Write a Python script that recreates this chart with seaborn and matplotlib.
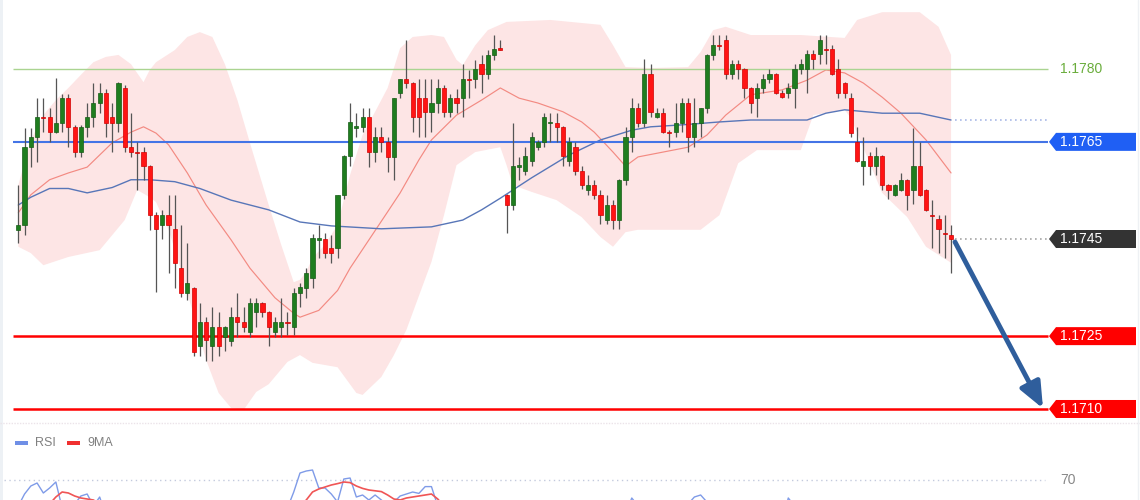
import numpy as np
import pandas as pd
import matplotlib
matplotlib.use("Agg")
import matplotlib.pyplot as plt
import seaborn as sns
from matplotlib.patches import Polygon, Rectangle
from matplotlib.lines import Line2D

sns.set_theme(style="white")
plt.rcParams["font.family"] = ["Liberation Sans", "DejaVu Sans"]

# ---------------- data (EURUSD-like candles) ----------------
open_ = [1.17469, 1.17479, 1.17639, 1.17660, 1.17701, 1.17701, 1.17670, 1.17689, 1.17740, 1.17681,
         1.17629, 1.17681, 1.17701, 1.17730, 1.17751, 1.17701, 1.17689, 1.17761, 1.17639, 1.17629,
         1.17629, 1.17600, 1.17499, 1.17479, 1.17499, 1.17471, 1.17390, 1.17339, 1.17349, 1.17230,
         1.17279, 1.17230, 1.17269, 1.17248, 1.17240, 1.17289, 1.17279, 1.17259, 1.17300, 1.17318,
         1.17300, 1.17259, 1.17269, 1.17279, 1.17269, 1.17339, 1.17349, 1.17370, 1.17448, 1.17450,
         1.17432, 1.17432, 1.17541, 1.17621, 1.17679, 1.17681, 1.17701, 1.17629, 1.17660, 1.17650,
         1.17619, 1.17751, 1.17779, 1.17771, 1.17740, 1.17740, 1.17712, 1.17730, 1.17761, 1.17712,
         1.17740, 1.17740, 1.17779, 1.17779, 1.17810, 1.17790, 1.17829, 1.17841, 1.17541, 1.17520,
         1.17598, 1.17590, 1.17611, 1.17639, 1.17650, 1.17689, 1.17689, 1.17681, 1.17611, 1.17639,
         1.17590, 1.17551, 1.17561, 1.17541, 1.17489, 1.17520, 1.17489, 1.17572, 1.17660, 1.17720,
         1.17689, 1.17790, 1.17701, 1.17709, 1.17670, 1.17670, 1.17689, 1.17730, 1.17660, 1.17689,
         1.17720, 1.17829, 1.17849, 1.17860, 1.17790, 1.17810, 1.17800, 1.17761, 1.17740, 1.17761,
         1.17779, 1.17790, 1.17751, 1.17751, 1.17761, 1.17800, 1.17800, 1.17831, 1.17831, 1.17841,
         1.17841, 1.17800, 1.17771, 1.17740, 1.17650, 1.17600, 1.17621, 1.17600, 1.17621, 1.17561,
         1.17541, 1.17551, 1.17572, 1.17551, 1.17600, 1.17551, 1.17499, 1.17491, 1.17462, 1.17458]
high = [1.17561, 1.17679, 1.17679, 1.17740, 1.17740, 1.17720, 1.17782, 1.17749, 1.17749, 1.17685,
        1.17685, 1.17730, 1.17771, 1.17771, 1.17759, 1.17730, 1.17773, 1.17767, 1.17709, 1.17650,
        1.17639, 1.17602, 1.17506, 1.17510, 1.17541, 1.17541, 1.17479, 1.17442, 1.17351, 1.17318,
        1.17289, 1.17310, 1.17300, 1.17271, 1.17310, 1.17339, 1.17310, 1.17329, 1.17329, 1.17320,
        1.17302, 1.17289, 1.17329, 1.17300, 1.17349, 1.17359, 1.17390, 1.17460, 1.17479, 1.17462,
        1.17458, 1.17541, 1.17623, 1.17730, 1.17709, 1.17720, 1.17720, 1.17681, 1.17681, 1.17660,
        1.17740, 1.17779, 1.17860, 1.17773, 1.17779, 1.17779, 1.17779, 1.17779, 1.17767, 1.17749,
        1.17759, 1.17810, 1.17798, 1.17819, 1.17829, 1.17839, 1.17870, 1.17860, 1.17543, 1.17689,
        1.17619, 1.17639, 1.17670, 1.17654, 1.17709, 1.17709, 1.17709, 1.17683, 1.17660, 1.17650,
        1.17600, 1.17582, 1.17572, 1.17551, 1.17541, 1.17530, 1.17574, 1.17681, 1.17740, 1.17730,
        1.17821, 1.17810, 1.17720, 1.17720, 1.17674, 1.17730, 1.17740, 1.17740, 1.17740, 1.17720,
        1.17831, 1.17870, 1.17870, 1.17870, 1.17819, 1.17819, 1.17802, 1.17763, 1.17771, 1.17790,
        1.17800, 1.17792, 1.17757, 1.17771, 1.17810, 1.17821, 1.17839, 1.17839, 1.17870, 1.17870,
        1.17849, 1.17821, 1.17773, 1.17751, 1.17681, 1.17660, 1.17629, 1.17639, 1.17623, 1.17563,
        1.17563, 1.17586, 1.17574, 1.17679, 1.17650, 1.17553, 1.17530, 1.17499, 1.17499, 1.17479]
low = [1.17442, 1.17458, 1.17598, 1.17609, 1.17670, 1.17650, 1.17668, 1.17670, 1.17639, 1.17619,
       1.17619, 1.17660, 1.17681, 1.17709, 1.17660, 1.17629, 1.17670, 1.17629, 1.17619, 1.17551,
       1.17572, 1.17469, 1.17341, 1.17450, 1.17380, 1.17349, 1.17331, 1.17324, 1.17209, 1.17209,
       1.17199, 1.17199, 1.17209, 1.17219, 1.17230, 1.17248, 1.17259, 1.17248, 1.17269, 1.17289,
       1.17230, 1.17248, 1.17248, 1.17252, 1.17252, 1.17310, 1.17329, 1.17349, 1.17411, 1.17411,
       1.17401, 1.17411, 1.17532, 1.17600, 1.17660, 1.17670, 1.17598, 1.17609, 1.17629, 1.17588,
       1.17572, 1.17740, 1.17761, 1.17670, 1.17660, 1.17660, 1.17670, 1.17709, 1.17701, 1.17701,
       1.17709, 1.17701, 1.17740, 1.17761, 1.17751, 1.17779, 1.17819, 1.17839, 1.17462, 1.17510,
       1.17572, 1.17582, 1.17600, 1.17633, 1.17639, 1.17650, 1.17650, 1.17600, 1.17600, 1.17582,
       1.17553, 1.17541, 1.17532, 1.17481, 1.17481, 1.17471, 1.17471, 1.17561, 1.17629, 1.17681,
       1.17681, 1.17701, 1.17699, 1.17668, 1.17639, 1.17660, 1.17670, 1.17629, 1.17639, 1.17660,
       1.17709, 1.17819, 1.17839, 1.17779, 1.17779, 1.17779, 1.17740, 1.17709, 1.17701, 1.17751,
       1.17771, 1.17749, 1.17740, 1.17740, 1.17720, 1.17790, 1.17751, 1.17800, 1.17810, 1.17810,
       1.17788, 1.17740, 1.17740, 1.17660, 1.17609, 1.17561, 1.17582, 1.17582, 1.17551, 1.17532,
       1.17539, 1.17549, 1.17510, 1.17522, 1.17539, 1.17508, 1.17432, 1.17421, 1.17411, 1.17380]
close = [1.17479, 1.17639, 1.17660, 1.17701, 1.17699, 1.17670, 1.17689, 1.17740, 1.17681, 1.17629,
         1.17681, 1.17701, 1.17730, 1.17751, 1.17689, 1.17689, 1.17771, 1.17639, 1.17629, 1.17627,
         1.17600, 1.17499, 1.17471, 1.17499, 1.17479, 1.17401, 1.17339, 1.17359, 1.17217, 1.17279,
         1.17242, 1.17269, 1.17230, 1.17269, 1.17289, 1.17279, 1.17269, 1.17318, 1.17318, 1.17300,
         1.17269, 1.17279, 1.17279, 1.17277, 1.17339, 1.17351, 1.17380, 1.17452, 1.17452, 1.17421,
         1.17421, 1.17541, 1.17621, 1.17691, 1.17683, 1.17701, 1.17629, 1.17660, 1.17650, 1.17619,
         1.17740, 1.17779, 1.17771, 1.17701, 1.17701, 1.17712, 1.17730, 1.17761, 1.17712, 1.17740,
         1.17730, 1.17779, 1.17777, 1.17800, 1.17790, 1.17829, 1.17841, 1.17840, 1.17520, 1.17600,
         1.17602, 1.17621, 1.17660, 1.17650, 1.17701, 1.17691, 1.17681, 1.17621, 1.17650, 1.17590,
         1.17561, 1.17561, 1.17541, 1.17499, 1.17520, 1.17489, 1.17572, 1.17660, 1.17720, 1.17689,
         1.17790, 1.17712, 1.17709, 1.17670, 1.17668, 1.17689, 1.17730, 1.17660, 1.17689, 1.17720,
         1.17829, 1.17849, 1.17847, 1.17790, 1.17810, 1.17800, 1.17761, 1.17730, 1.17761, 1.17779,
         1.17790, 1.17751, 1.17742, 1.17761, 1.17800, 1.17810, 1.17831, 1.17821, 1.17860, 1.17839,
         1.17790, 1.17751, 1.17751, 1.17668, 1.17611, 1.17611, 1.17600, 1.17621, 1.17561, 1.17551,
         1.17561, 1.17572, 1.17541, 1.17600, 1.17541, 1.17510, 1.17497, 1.17471, 1.17460, 1.17450]

# Bollinger band edges (candle index, price)
bb_up_idx = [0, 2, 4, 6, 8, 10, 12, 14, 16, 18, 20, 21, 22, 25, 27, 29, 31, 33, 35, 37,
             40, 42, 44, 45, 46, 47, 49, 51, 53, 55, 57, 59, 61, 63, 66, 68, 70, 71, 73, 75,
             78, 85, 93, 95, 97, 101, 107, 109, 111, 113, 117, 125, 132, 134, 138, 144, 147, 149]
bb_up = [1.17561, 1.17654, 1.17705, 1.17736, 1.17761, 1.17788, 1.17814, 1.17825, 1.17829, 1.17810,
         1.17773, 1.17798, 1.17814, 1.17839, 1.17866, 1.17876, 1.17866, 1.17810, 1.17736, 1.17648,
         1.17520, 1.17438, 1.17361, 1.17366, 1.17382, 1.17411, 1.17438, 1.17479, 1.17582, 1.17664,
         1.17712, 1.17761, 1.17843, 1.17866, 1.17870, 1.17866, 1.17819, 1.17808, 1.17849, 1.17880,
         1.17897, 1.17901, 1.17891, 1.17849, 1.17804, 1.17802, 1.17804, 1.17835, 1.17880, 1.17887,
         1.17870, 1.17870, 1.17864, 1.17901, 1.17917, 1.17917, 1.17887, 1.17829]
bb_lo_idx = [0, 2, 4, 8, 13, 17, 19, 21, 22, 24, 26, 28, 30, 32, 34, 36, 38, 40, 43, 45,
             47, 51, 54, 55, 58, 60, 62, 66, 68, 70, 73, 77, 78, 79, 82, 86, 90, 93, 95, 97,
             99, 109, 112, 115, 118, 125, 127, 132, 133, 138, 142, 145, 149]
bb_lo = [1.17434, 1.17421, 1.17396, 1.17413, 1.17427, 1.17489, 1.17551, 1.17536, 1.17526, 1.17469,
         1.17386, 1.17294, 1.17201, 1.17133, 1.17102, 1.17098, 1.17135, 1.17151, 1.17197, 1.17211,
         1.17195, 1.17186, 1.17133, 1.17129, 1.17166, 1.17211, 1.17263, 1.17403, 1.17499, 1.17602,
         1.17629, 1.17639, 1.17602, 1.17561, 1.17547, 1.17530, 1.17495, 1.17454, 1.17434, 1.17464,
         1.17469, 1.17469, 1.17499, 1.17606, 1.17633, 1.17633, 1.17705, 1.17716, 1.17699, 1.17545,
         1.17495, 1.17434, 1.17401]
# middle band (20 MA) and slow MA
ma20_idx = [0, 2, 5, 8, 11, 13, 15, 18, 20, 22, 24, 27, 30, 34, 37, 41, 44, 45, 48, 51,
            53, 56, 59, 61, 64, 66, 70, 74, 77, 80, 83, 87, 90, 92, 95, 97, 99, 103, 107, 110,
            113, 117, 122, 126, 129, 132, 135, 138, 141, 145, 149]
ma20 = [1.17504, 1.17541, 1.17572, 1.17586, 1.17598, 1.17623, 1.17648, 1.17670, 1.17681, 1.17668,
        1.17644, 1.17586, 1.17520, 1.17448, 1.17390, 1.17329, 1.17297, 1.17289, 1.17303, 1.17344,
        1.17390, 1.17448, 1.17506, 1.17545, 1.17613, 1.17654, 1.17705, 1.17736, 1.17761, 1.17740,
        1.17730, 1.17712, 1.17691, 1.17670, 1.17629, 1.17600, 1.17619, 1.17629, 1.17639, 1.17664,
        1.17705, 1.17747, 1.17757, 1.17777, 1.17798, 1.17792, 1.17771, 1.17742, 1.17709, 1.17654,
        1.17586]
ma_slow_idx = [0, 2, 5, 8, 11, 15, 18, 21, 25, 29, 34, 40, 45, 50, 58, 66, 71, 74, 77, 82,
               88, 93, 98, 101, 106, 112, 117, 126, 129, 132, 138, 144, 149]
ma_slow = [1.17520, 1.17536, 1.17554, 1.17554, 1.17545, 1.17556, 1.17572, 1.17572, 1.17568, 1.17554,
           1.17530, 1.17510, 1.17485, 1.17477, 1.17471, 1.17475, 1.17489, 1.17510, 1.17534, 1.17576,
           1.17623, 1.17654, 1.17674, 1.17681, 1.17685, 1.17691, 1.17695, 1.17695, 1.17709, 1.17716,
           1.17709, 1.17709, 1.17695]

# RSI panel (only the part above ~60 is visible)
rsi = [57, 63, 67, 68.5, 63.5, 66, 69, 56, 52, 58, 62, 63, 57, 61.5, 52,
       50, 56, 46, 43, 41, 38, 31, 28, 30, 29, 25, 22, 24, 20, 27, 25, 29, 27, 29, 36, 34, 33, 42, 43, 40, 36, 39, 40,
       56, 64, 73.5, 74.5, 75, 66, 66, 63, 59, 70.5, 71, 61.5, 62.5, 60, 62.5, 60, 57, 59, 62, 63, 64, 63.3, 66.7, 66.7, 57,
       55, 58, 56, 58.5, 58, 59.5, 57, 59, 59.5, 59,
       45, 52, 52, 54, 56, 56, 59, 58, 57, 50,
       52, 47, 43, 43, 41, 38, 40, 38, 45, 53,
       61, 57, 59, 52, 53, 49, 49, 51, 55, 58,
       61.5, 62.5, 59, 57, 56, 50, 52, 51, 48, 45,
       48, 51, 52, 49, 48, 61, 57, 55, 55, 57,
       54, 58, 57, 50, 45, 44, 35, 28, 30, 29,
       31, 27, 26, 28, 29, 27, 35, 28, 24, 22, 21, 20]
rsi_ma9 = [55, 56, 57, 57.5, 58, 58, 61.5, 64, 63.5, 62, 61, 60.5, 60, 58,
           57, 56, 55, 54, 52, 50, 48, 45, 42, 38, 35, 32, 30, 28, 27, 26, 26, 26, 27, 28,
           30, 32, 34, 36, 38, 40, 42, 45, 48, 51, 54, 57,
           60, 64, 65.5, 66.5, 67.5, 68.2, 69, 68.7, 67, 65.8, 65, 64.6, 64.2, 62.5, 60.5, 60,
           61, 61.5, 62, 62.5, 63, 60.5, 57,
           57, 57, 57, 57, 57.5, 58, 58, 58, 57, 56,
           55, 54, 54, 54, 54, 55, 55, 55, 54, 53,
           52, 50, 48, 46, 45, 44, 44, 45, 47, 50,
           52, 54, 55, 55, 54, 53, 52, 52, 53, 54,
           56, 57, 58, 58, 58, 57, 56, 55, 55, 55,
           52, 51, 51, 51, 52, 53, 54, 55, 55, 56,
           56, 55, 53, 50, 47, 44, 41, 38, 35, 33,
           31, 30, 29, 28, 28, 28, 28, 27, 26, 25, 24]

levels = [1.1780, 1.1765, 1.1725, 1.1710]
level_labels = ["1.1780", "1.1765", "1.1725", "1.1710"]
last_label = "1.1745"
rsi_level = 70
legend_labels = ["RSI", "9MA"]

# ---------------- layout ----------------
FIG_W, FIG_H, DPI = 1140, 500, 100
X0_PX, STEP_PX = 18.3, 6.26
P_AT_TOP, P_PER_PX = 1.179421, 0.00002059
MAIN_BOTTOM_PX = 423


def px2i(px):
    return (px - X0_PX) / STEP_PX


def py2p(py):
    return P_AT_TOP - py * P_PER_PX


fig = plt.figure(figsize=(FIG_W / DPI, FIG_H / DPI), dpi=DPI)
fig.patch.set_facecolor("white")
ax = fig.add_axes([0, 1 - MAIN_BOTTOM_PX / FIG_H, 1, MAIN_BOTTOM_PX / FIG_H])
ax.set_xlim(px2i(0), px2i(FIG_W))
ax.set_ylim(py2p(MAIN_BOTTOM_PX), py2p(0))
ax.axis("off")

# band
band_x = list(bb_up_idx) + list(bb_lo_idx[::-1])
band_y = list(bb_up) + list(bb_lo[::-1])
ax.fill(band_x, band_y, facecolor="#fde5e5", edgecolor="none", zorder=1)

# moving averages
sns.lineplot(x=ma20_idx, y=ma20, ax=ax, color="#f38a82", linewidth=0.85, zorder=2, legend=False)
sns.lineplot(x=ma_slow_idx, y=ma_slow, ax=ax, color="#5876b8", linewidth=1.0, zorder=2, legend=False)

# level lines
x_l0, x_l1 = px2i(13), px2i(1048)
ax.hlines(levels[0], x_l0, x_l1, color="#aad491", linewidth=1.0, zorder=2.5)
ax.hlines(levels[1], x_l0, x_l1, color="#4474e6", linewidth=1.5, zorder=2.5)
ax.hlines(levels[2], x_l0, x_l1, color="#ff0000", linewidth=1.8, zorder=2.5)
ax.hlines(levels[3], x_l0, x_l1, color="#ff0000", linewidth=1.8, zorder=2.5)
ax.hlines(ma_slow[-1], px2i(955), x_l1, color="#a9b9e6", linewidth=1.2, linestyles=(0, (1, 2)), zorder=2.5)
ax.hlines(close[-1], px2i(955), x_l1, color="#a6a6a6", linewidth=1.2, linestyles=(0, (1, 2)), zorder=2.5)

# candles
df = pd.DataFrame({"o": open_, "h": high, "l": low, "c": close})
df["i"] = np.arange(len(df))
df["up"] = df["c"] >= df["o"]
ax.vlines(df["i"], df["l"], df["h"], colors="#555555", linewidth=0.9, zorder=3)
bot = np.minimum(df["o"], df["c"])
hgt = np.maximum((df["c"] - df["o"]).abs(), 1.3 * P_PER_PX)
for flag, fc, ec in [(True, "#1f7d1f", "#165c16"), (False, "#ff1414", "#d10000")]:
    m = df["up"] == flag
    ax.bar(df["i"][m], hgt[m], bottom=bot[m], width=0.66, color=fc,
           edgecolor=ec, linewidth=0.5, zorder=4)

# tags
TAG_H = 18 * P_PER_PX
tip, neck, right = px2i(1049), px2i(1056), px2i(1136)


def tag(level, text, color):
    poly = Polygon([(tip, level), (neck, level + TAG_H / 2), (right, level + TAG_H / 2),
                    (right, level - TAG_H / 2), (neck, level - TAG_H / 2)],
                   closed=True, facecolor=color, edgecolor="none", zorder=6, clip_on=False)
    ax.add_patch(poly)
    ax.text(px2i(1060), level, text, color="white", fontsize=10, va="center", ha="left", zorder=7)


ax.text(px2i(1060), levels[0], level_labels[0], color="#6aad3c", fontsize=10, va="center", ha="left")
tag(levels[1], level_labels[1], "#1f5ff4")
tag(close[-1], last_label, "#333333")
tag(levels[2], level_labels[2], "#ff0000")
tag(levels[3], level_labels[3], "#ff0000")

# forecast arrow
ax.annotate("", xy=(px2i(1043), levels[3] + 0.5 * P_PER_PX), xytext=(px2i(955), close[-1] - 3 * P_PER_PX),
            arrowprops=dict(arrowstyle="-|>,head_length=1.3,head_width=0.55", color="#2f5e9c",
                            linewidth=3.5, shrinkA=0, shrinkB=0, mutation_scale=12), zorder=8)

# ---------------- RSI panel ----------------
RSI_TOP_PX, RSI_BOT_PX = 430, 650
axr = fig.add_axes([0, 1 - RSI_BOT_PX / FIG_H, 1, (RSI_BOT_PX - RSI_TOP_PX) / FIG_H])
axr.set_xlim(px2i(0), px2i(FIG_W))
axr.set_ylim(-15, 95)
axr.axis("off")
axr.hlines(rsi_level, px2i(4), px2i(1045), color="#c3cadd", linewidth=1.0, linestyles=(0, (1, 2.5)))
axr.text(px2i(1060), rsi_level, str(rsi_level), color="#888888", fontsize=10, va="center", ha="left")
sns.lineplot(x=np.arange(len(rsi)), y=rsi, ax=axr, color="#7f9be8", linewidth=1.0, legend=False)
sns.lineplot(x=np.arange(len(rsi_ma9)), y=rsi_ma9, ax=axr, color="#f05555", linewidth=1.2, legend=False)

# legend of the RSI panel
for x_px, col, lab, tx in [(15, "#6f8fe6", legend_labels[0], 35), (67, "#f03030", legend_labels[1], 87)]:
    fig.patches.append(Rectangle((x_px / FIG_W, 1 - 445 / FIG_H), 13 / FIG_W, 4 / FIG_H,
                                 transform=fig.transFigure, facecolor=col, edgecolor="none"))
    fig.text(tx / FIG_W, 1 - 443 / FIG_H, lab, fontsize=9, color="#808080", va="center", ha="left")

# separators / frame
fig.add_artist(Line2D([0, 1], [1 - 423 / FIG_H] * 2, transform=fig.transFigure,
                      color="#ebe3e9", linestyle=(0, (1, 1)), linewidth=1.0))
fig.patches.append(Rectangle((0, 0), 3 / FIG_W, 1, transform=fig.transFigure,
                             facecolor="#edf1f5", edgecolor="none"))
fig.add_artist(Line2D([1138 / FIG_W] * 2, [0, 1], transform=fig.transFigure,
                      color="#eef1f4", linewidth=1.0))

fig.savefig("out.png", dpi=DPI)
